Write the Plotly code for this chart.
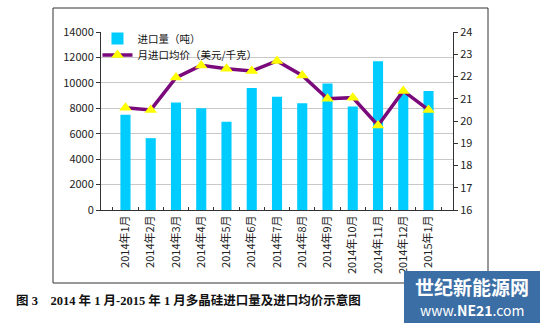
import plotly.graph_objects as go

months = ["2014年1月", "2014年2月", "2014年3月", "2014年4月", "2014年5月", "2014年6月",
          "2014年7月", "2014年8月", "2014年9月", "2014年10月", "2014年11月", "2014年12月", "2015年1月"]
import_volume = [7500, 5650, 8450, 8000, 6950, 9600, 8900, 8400, 9950, 8150, 11700, 9150, 9350]
avg_price = [20.6, 20.5, 21.95, 22.5, 22.35, 22.25, 22.7, 22.05, 21.0, 21.05, 19.8, 21.35, 20.5]

FONT = "Noto Sans CJK SC"

fig = go.Figure()
fig.add_trace(go.Bar(
    x=months, y=import_volume, name="进口量（吨）",
    marker=dict(color="#00CCFF", line=dict(width=0)),
    yaxis="y", legend="legend",
))
fig.add_trace(go.Scatter(
    x=months, y=avg_price, name="月进口均价（美元/千克）",
    mode="lines+markers",
    line=dict(color="#7A0A7C", width=3.5),
    marker=dict(symbol="triangle-up", size=11, color="#FFFF00", line=dict(width=0)),
    yaxis="y2", legend="legend2",
))

leg_common = dict(xanchor="left", yanchor="middle", bgcolor="rgba(0,0,0,0)",
                  font=dict(size=10.5, color="#111111"), itemwidth=30,
                  borderwidth=0)

fig.update_layout(
    width=544, height=326,
    margin=dict(l=101, r=91, t=32, b=116),
    paper_bgcolor="white", plot_bgcolor="white",
    font=dict(family=FONT, size=11, color="#222222"),
    bargap=0.6,
    showlegend=True,
    legend=dict(x=-0.01, y=(210 - 38.5) / 178, **leg_common),
    legend2=dict(x=-0.01, y=(210 - 55) / 178, **leg_common),
    xaxis=dict(
        type="category", tickangle=-90, showgrid=False,
        showline=True, linecolor="#333333", linewidth=1,
        ticks="inside", ticklen=3, tickson="boundaries", tickcolor="#333333",
        tickfont=dict(size=11), mirror=False,
    ),
    yaxis=dict(
        range=[0, 14000], dtick=2000, tickformat="d",
        showgrid=True, gridcolor="#C8C8C8", gridwidth=1.2,
        showline=True, linecolor="#333333", linewidth=1,
        ticks="outside", ticklen=4, tickcolor="#333333",
        tickfont=dict(size=11), zeroline=False,
    ),
    yaxis2=dict(
        range=[16, 24], dtick=1, overlaying="y", side="right", showgrid=False,
        showline=True, linecolor="#333333", linewidth=1,
        ticks="outside", ticklen=4, tickcolor="#333333",
        tickfont=dict(size=11), zeroline=False,
    ),
)

# outer frame
fig.add_shape(type="rect", xref="paper", yref="paper",
              x0=(53 - 101) / 352, x1=(488 - 101) / 352,
              y0=(210 - 283) / 178, y1=(210 - 8) / 178,
              line=dict(color="#333333", width=1), fillcolor="rgba(0,0,0,0)", layer="below")

# caption
fig.add_annotation(xref="paper", yref="paper", x=(14 - 101) / 352, y=(210 - 300) / 178,
                   xanchor="left", yanchor="middle", showarrow=False,
                   text="<b>图 3    2014 年 1 月-2015 年 1 月多晶硅进口量及进口均价示意图</b>",
                   font=dict(family="Liberation Serif, " + FONT, size=12.5, color="#111111"))

# watermark
fig.add_shape(type="rect", xref="paper", yref="paper",
              x0=(404 - 101) / 352, x1=(540 - 101) / 352,
              y0=(210 - 323) / 178, y1=(210 - 271) / 178,
              line=dict(color="#3C6EA6", width=0), fillcolor="#3C6EA6", layer="above")
fig.add_annotation(xref="paper", yref="paper", x=(472 - 101) / 352, y=(210 - 286) / 178,
                   xanchor="center", yanchor="middle", showarrow=False,
                   text="<b>世纪新能源网</b>", font=dict(family=FONT, size=19, color="white"))
fig.add_annotation(xref="paper", yref="paper", x=(472 - 101) / 352, y=(210 - 310) / 178,
                   xanchor="center", yanchor="middle", showarrow=False,
                   text="www.<b>NE21</b>.com", font=dict(family=FONT, size=14, color="white"))

fig.write_html("out.html")
